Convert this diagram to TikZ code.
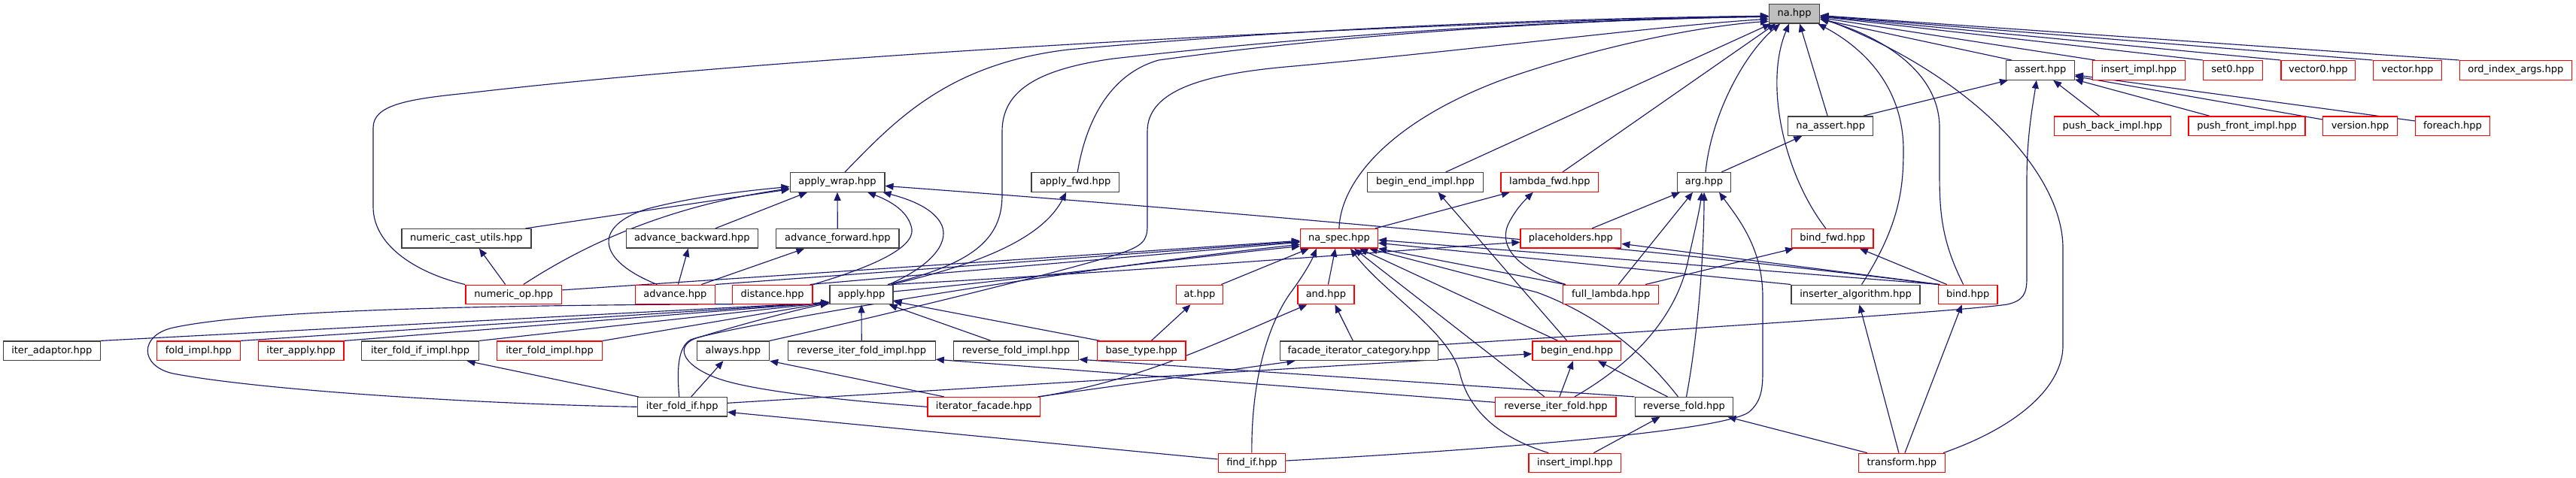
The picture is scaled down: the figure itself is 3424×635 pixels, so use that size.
\documentclass[tikz,border=0pt]{standalone}
\usepackage{fontspec}
\setmainfont{DejaVu Sans}
\usetikzlibrary{arrows.meta,calc}
\definecolor{edgeblue}{HTML}{191970}
\definecolor{boxgray}{HTML}{404040}
\definecolor{nafill}{HTML}{BFBFBF}
\definecolor{boxred}{HTML}{FF0000}
\pgfdeclarelayer{edgelayer}
\pgfdeclarelayer{paper}
\pgfsetlayers{paper,edgelayer,main}
\begin{document}
\begin{tikzpicture}[x=1pt,y=-1pt,
  box/.style={draw=boxgray, line width=1.3pt, fill=white, minimum height=25.5pt,
    inner sep=0pt, font=\fontsize{13}{15}\selectfont, text=black},
  rbox/.style={box, draw=boxred},
  dep/.style={draw=edgeblue, line width=1.15pt, -{Triangle[length=11pt,width=9pt]}}]
\begin{pgfonlayer}{paper}
\fill[white] (0,0) rectangle (3424,635);
\end{pgfonlayer}
\useasboundingbox (0,0) rectangle (3424,635);
% row 0
\node[box, fill=nafill, minimum width=67.2pt] (na) at (2385.1,18.2) {na.hpp};
% row 1
\node[box, minimum width=90.6pt] (assert) at (2711.9,93.4) {assert.hpp};
\node[rbox, minimum width=122.9pt] (insimpla) at (2842.8,93.4) {insert\_impl.hpp};
\node[rbox, minimum width=79.1pt] (set0) at (2967.9,93.4) {set0.hpp};
\node[rbox, minimum width=98.8pt] (vector0) at (3081.3,93.4) {vector0.hpp};
\node[rbox, minimum width=91.1pt] (vectorn) at (3199.8,93.4) {vector.hpp};
\node[rbox, minimum width=149.3pt] (ordidx) at (3343.8,93.4) {ord\_index\_args.hpp};
% row 2
\node[box, minimum width=113.2pt] (naassert) at (2433.2,167.7) {na\_assert.hpp};
\node[rbox, minimum width=154.5pt] (pushback) at (2807.9,167.7) {push\_back\_impl.hpp};
\node[rbox, minimum width=155.2pt] (pushfront) at (2986.5,167.7) {push\_front\_impl.hpp};
\node[rbox, minimum width=98.8pt] (versionn) at (3137,167.7) {version.hpp};
\node[rbox, minimum width=98.9pt] (foreachn) at (3260,167.7) {foreach.hpp};
% row 3
\node[box, minimum width=125.7pt] (applywrap) at (1113,242.4) {apply\_wrap.hpp};
\node[box, minimum width=116.5pt] (applyfwd) at (1429.2,242.4) {apply\_fwd.hpp};
\node[box, minimum width=153.5pt] (beimpl) at (1894.5,242.4) {begin\_end\_impl.hpp};
\node[rbox, minimum width=129.8pt] (lambdafwd) at (2059.8,242.4) {lambda\_fwd.hpp};
\node[box, minimum width=70.5pt] (argn) at (2265,242.4) {arg.hpp};
% row 4
\node[box, minimum width=171.9pt] (ncu) at (619.9,317.3) {numeric\_cast\_utils.hpp};
\node[box, minimum width=175pt] (advback) at (919.8,317.3) {advance\_backward.hpp};
\node[box, minimum width=163.1pt] (advfwd) at (1113.3,317.3) {advance\_forward.hpp};
\node[rbox, minimum width=102.8pt] (naspec) at (1779.9,317.3) {na\_spec.hpp};
\node[rbox, minimum width=133.6pt] (placeholders) at (2087.9,317.3) {placeholders.hpp};
\node[rbox, minimum width=108.1pt] (bindfwd) at (2435.8,317.3) {bind\_fwd.hpp};
% row 5
\node[rbox, minimum width=127.7pt] (numop) at (682.7,391.9) {numeric\_op.hpp};
\node[rbox, minimum width=105.8pt] (advancen) at (897.4,391.9) {advance.hpp};
\node[rbox, minimum width=106.5pt] (distancen) at (1026.6,391.9) {distance.hpp};
\node[box, minimum width=83.9pt] (applyn) at (1145,391.9) {apply.hpp};
\node[rbox, minimum width=62.5pt] (atn) at (1594.5,391.9) {at.hpp};
\node[rbox, minimum width=75.1pt] (andn) at (1762.4,391.9) {and.hpp};
\node[rbox, minimum width=126.9pt] (fulllambda) at (2141.2,391.9) {full\_lambda.hpp};
\node[box, minimum width=170.9pt] (inserter) at (2466.5,391.9) {inserter\_algorithm.hpp};
\node[rbox, minimum width=78.8pt] (bindn) at (2615.7,391.9) {bind.hpp};
% row 6
\node[box, minimum width=128.8pt] (iteradaptor) at (68.8,466.8) {iter\_adaptor.hpp};
\node[rbox, minimum width=111pt] (foldimpl) at (263.8,466.8) {fold\_impl.hpp};
\node[rbox, minimum width=113.6pt] (iterapply) at (400.1,466.8) {iter\_apply.hpp};
\node[box, minimum width=156pt] (ifiimpl) at (558.6,466.8) {iter\_fold\_if\_impl.hpp};
\node[rbox, minimum width=139.9pt] (iterfoldimpl) at (730.6,466.8) {iter\_fold\_impl.hpp};
\node[box, minimum width=96.2pt] (alwaysn) at (974.4,466.8) {always.hpp};
\node[box, minimum width=196pt] (rifimpl) at (1145.2,466.8) {reverse\_iter\_fold\_impl.hpp};
\node[box, minimum width=166.4pt] (rfimpl) at (1350.5,466.8) {reverse\_fold\_impl.hpp};
\node[rbox, minimum width=117.3pt] (basetype) at (1517.2,466.8) {base\_type.hpp};
\node[box, minimum width=210.4pt] (facadecat) at (1806.4,466.8) {facade\_iterator\_category.hpp};
\node[rbox, minimum width=117.7pt] (beginend) at (2095.9,466.8) {begin\_end.hpp};
% row 7
\node[box, minimum width=119.1pt] (iterfoldif) at (906.7,541.3) {iter\_fold\_if.hpp};
\node[rbox, minimum width=149.8pt] (iterfacade) at (1307.8,541.3) {iterator\_facade.hpp};
\node[rbox, minimum width=160.2pt] (revifold) at (2067.9,541.3) {reverse\_iter\_fold.hpp};
\node[box, minimum width=130.5pt] (revfold) at (2238.5,541.3) {reverse\_fold.hpp};
% row 8
\node[rbox, minimum width=89.5pt] (findif) at (1663.9,616) {find\_if.hpp};
\node[rbox, minimum width=122.8pt] (insimplb) at (2093.3,616) {insert\_impl.hpp};
\node[rbox, minimum width=114.7pt] (transformn) at (2527.9,616) {transform.hpp};

\begin{pgfonlayer}{edgelayer}
% ---- into na
\draw[dep] ($(assert.north west)+(8,0)$) -- (na);
\draw[dep] ($(insimpla.north west)+(4,0)$) -- (na);
\draw[dep] (set0.north west) -- (na);
\draw[dep] (vector0.north west) -- (na);
\draw[dep] (vectorn.north west) -- (na);
\draw[dep] (ordidx.north west) -- (na);
\draw[dep] (naassert) -- ($(na.south)+(7,0)$);
\draw[dep] ($(argn.north)+(2,0)$) .. controls (2275,150) and (2320,70) .. ($(na.south)+(-19,0)$);
\draw[dep] ($(bindfwd.north)+(-9,0)$) .. controls (2370,230) and (2345,110) .. ($(na.south)+(-7,0)$);
\draw[dep] ($(inserter.north)+(8,0)$) .. controls (2525,300) and (2530,250) .. (2530,200) .. controls (2530,110) and (2470,60) .. ($(na.south east)+(-3,0)$);
\draw[dep] ($(bindn.north)+(-6,0)$) .. controls (2580,320) and (2578,280) .. (2578,230) -- (2578,170) .. controls (2578,90) and (2490,45) .. ($(na.east)+(0,7)$);
\draw[dep] ($(transformn.north)+(55,0)$) .. controls (2690,565) and (2742,510) .. (2742,460) -- (2742,330) .. controls (2742,230) and (2620,100) .. ($(na.east)+(0,5)$);
\draw[dep] ($(beimpl.north)+(27,0)$) -- ($(na.south west)+(3,0)$);
\draw[dep] ($(lambdafwd.north)+(17,0)$) -- ($(na.south)+(-25,0)$);
\draw[dep] (naspec.north) .. controls (1782,240) and (1850,160) .. (2000,105) .. controls (2130,60) and (2260,35) .. ($(na.west)+(0,10)$);
\draw[dep] (numop.north west) .. controls (560,365) and (496,330) .. (496,275) -- (496,170) .. controls (496,140) and (540,132) .. (620,124) .. controls (1100,68) and (1900,30) .. ($(na.west)+(0,3)$);
\draw[dep] ($(applywrap.north)+(10,0)$) .. controls (1190,160) and (1260,85) .. (1420,66) .. controls (1750,36) and (2100,24) .. ($(na.west)+(0,3)$);
\draw[dep] ($(applyn.north)+(35,0)$) .. controls (1290,352) and (1332,320) .. (1332,260) -- (1332,175) .. controls (1332,120) and (1380,92) .. (1480,78) .. controls (1800,42) and (2100,26) .. ($(na.west)+(0,4)$);
\draw[dep] ($(applyfwd.north)+(3,0)$) .. controls (1442,170) and (1470,100) .. (1540,80) .. controls (1800,44) and (2100,26) .. ($(na.west)+(0,4)$);
\draw[dep] (alwaysn.north east) .. controls (1150,425) and (1400,365) .. (1480,340) .. controls (1520,328) and (1525,320) .. (1525,300) -- (1525,175) .. controls (1525,120) and (1600,98) .. (1720,88) .. controls (2000,62) and (2200,35) .. ($(na.west)+(0,7)$);
% ---- into assert
\draw[dep] ($(naassert.north east)+(-14,0)$) -- ($(assert.south west)+(3,0)$);
\draw[dep] (pushback) -- (assert);
\draw[dep] (pushfront) -- (assert);
\draw[dep] (versionn) -- (assert);
\draw[dep] (foreachn) -- (assert);
\draw[dep] ($(facadecat.east)+(0,-8)$) .. controls (2200,440) and (2600,415) .. (2668,405) .. controls (2690,400) and (2694,390) .. (2694,370) -- (2694,240) .. controls (2694,180) and (2702,140) .. ($(assert.south)+(-5,0)$);
% ---- into na_assert
\draw[dep] ($(argn.north)+(23,0)$) -- ($(naassert.south)+(-38,0)$);
% ---- into apply_wrap
\draw[dep] ($(ncu.north east)+(-8,0)$) -- ($(applywrap.south west)+(0,-4)$);
\draw[dep] ($(numop.north)+(13,0)$) .. controls (770,330) and (880,275) .. ($(applywrap.south west)+(0,-5)$);
\draw[dep] ($(advancen.north)+(-24,0)$) .. controls (790,345) and (790,300) .. (860,278) .. controls (920,262) and (990,254) .. ($(applywrap.west)+(0,6)$);
\draw[dep] ($(advback.north)+(31,0)$) -- ($(applywrap.south)+(-40,0)$);
\draw[dep] (advfwd.north) -- (applywrap.south);
\draw[dep] (distancen.north east) .. controls (1160,355) and (1215,330) .. (1212,305) .. controls (1208,282) and (1185,268) .. ($(applywrap.south)+(40,0)$);
\draw[dep] ($(applyn.north east)+(-6,0)$) .. controls (1235,355) and (1262,325) .. (1252,300) .. controls (1242,278) and (1212,266) .. ($(applywrap.south east)+(-3,0)$);
\draw[dep] (bindn.north west) .. controls (2300,342) and (1700,286) .. ($(applywrap.east)+(0,5)$);
% ---- into apply_fwd
\draw[dep] ($(applyn.north east)+(-3,0)$) .. controls (1300,352) and (1385,318) .. ($(applyfwd.south)+(-12,0)$);
% ---- into begin_end_impl, lambda_fwd
\draw[dep] ($(beginend.north)+(-13,0)$) -- ($(beimpl.south)+(17,0)$);
\draw[dep] ($(naspec.north)+(48,0)$) -- ($(lambdafwd.south)+(-53,0)$);
\draw[dep] ($(fulllambda.north)+(-60,0)$) .. controls (2020,360) and (1992,330) .. (2004,300) .. controls (2012,282) and (2025,268) .. ($(lambdafwd.south)+(-22,0)$);
% ---- into arg
\draw[dep] ($(placeholders.north)+(28,0)$) -- ($(argn.south west)+(4,0)$);
\draw[dep] ($(fulllambda.north)+(10,0)$) -- ($(argn.south)+(-15,0)$);
\draw[dep] ($(revifold.north)+(25,0)$) .. controls (2185,475) and (2230,410) .. (2243,350) .. controls (2252,310) and (2259,280) .. ($(argn.south)+(-3,0)$);
\draw[dep] ($(revfold.north)+(3,0)$) .. controls (2258,440) and (2265,330) .. (argn.south);
\draw[dep] ($(findif.east)+(0,-3)$) .. controls (1950,600) and (2290,575) .. (2325,548) .. controls (2340,535) and (2343,520) .. (2343,495) -- (2343,395) .. controls (2343,330) and (2310,290) .. ($(argn.south)+(20,0)$);
% ---- into na_spec
\draw[dep] ($(numop.east)+(0,-6)$) -- ($(naspec.west)+(0,3)$);
\draw[dep] (advancen.north east) -- ($(naspec.west)+(0,4)$);
\draw[dep] ($(distancen.north east)+(-4,0)$) -- ($(naspec.west)+(0,5)$);
\draw[dep] ($(applyn.east)+(0,-4)$) .. controls (1350,373) and (1600,340) .. ($(naspec.south west)+(0,-3)$);
\draw[dep] ($(iterfoldif.north)+(-4,0)$) .. controls (900,495) and (900,462) .. (918,452) .. controls (960,436) and (1400,360) .. ($(naspec.west)+(0,8)$);
\draw[dep] ($(atn.north east)+(-3,0)$) -- ($(naspec.south)+(-40,0)$);
\draw[dep] ($(andn.north)+(3,0)$) -- ($(naspec.south)+(-5,0)$);
\draw[dep] ($(fulllambda.north)+(-61,0)$) -- (naspec.south east);
\draw[dep] (inserter.north west) -- ($(naspec.east)+(0,6)$);
\draw[dep] ($(bindn.north west)+(2,0)$) -- ($(naspec.east)+(0,2)$);
\draw[dep] ($(beginend.north)+(-25,0)$) -- ($(naspec.south)+(27,0)$);
\draw[dep] ($(revifold.north)+(-15,0)$) -- ($(naspec.south)+(20,0)$);
\draw[dep] ($(revfold.north)+(-8,0)$) .. controls (2170,450) and (2100,410) .. (2043,389) -- ($(naspec.south)+(40,0)$);
\draw[dep] ($(insimplb.north)+(-35,0)$) .. controls (1985,580) and (1950,540) .. (1940,495) .. controls (1925,440) and (1840,390) .. ($(naspec.south)+(15,0)$);
\draw[dep] (findif.north) .. controls (1663,520) and (1680,440) .. (1715,390) .. controls (1730,370) and (1742,350) .. ($(naspec.south)+(-30,0)$);
% ---- into placeholders
\draw[dep] ($(applyn.north east)+(-2,0)$) .. controls (1500,362) and (1900,330) .. ($(placeholders.west)+(0,5)$);
\draw[dep] ($(bindn.north west)+(3,0)$) -- ($(placeholders.east)+(0,7)$);
% ---- into bind_fwd
\draw[dep] ($(bindn.north)+(-28,0)$) -- ($(bindfwd.south)+(36,0)$);
\draw[dep] ($(fulllambda.north)+(46,0)$) -- ($(bindfwd.south west)+(3,0)$);
% ---- into numeric_cast_utils, advance_*
\draw[dep] ($(numop.north)+(-11,0)$) -- ($(ncu.south)+(17,0)$);
\draw[dep] ($(advancen.north)+(4,0)$) -- ($(advback.south)+(-5,0)$);
\draw[dep] ($(advancen.north)+(35,0)$) -- ($(advfwd.south)+(-44,0)$);
% ---- into apply
\draw[dep] (iteradaptor.north east) -- ($(applyn.south west)+(0,-3)$);
\draw[dep] (foldimpl.north east) -- ($(applyn.south west)+(0,-3)$);
\draw[dep] (iterapply.north east) -- ($(applyn.south west)+(0,-3)$);
\draw[dep] (ifiimpl.north east) -- ($(applyn.south west)+(0,-3)$);
\draw[dep] (iterfoldimpl.north east) -- ($(applyn.south west)+(0,-3)$);
\draw[dep] (rifimpl.north) -- (applyn.south);
\draw[dep] ($(rfimpl.north)+(-33,0)$) -- ($(applyn.south east)+(-6,0)$);
\draw[dep] ($(basetype.north)+(-55,0)$) -- ($(applyn.east)+(0,9)$);
\draw[dep] (iterfoldif.west) .. controls (650,538) and (350,520) .. (230,497) .. controls (185,487) and (185,446) .. (230,436) .. controls (350,410) and (700,405) .. ($(applyn.south west)+(0,-1)$);
\draw[dep] (iterfacade.west) .. controls (1150,535) and (1000,522) .. (950,502) .. controls (905,484) and (898,460) .. (925,450) .. controls (990,430) and (1060,412) .. ($(applyn.south west)+(-1,-2)$);
% ---- into at, and, facade
\draw[dep] ($(basetype.north)+(13,0)$) -- ($(atn.south)+(-12,0)$);
\draw[dep] ($(facadecat.north)+(-8,0)$) -- ($(andn.south)+(12,0)$);
\draw[dep] ($(iterfacade.north east)+(-2,0)$) .. controls (1520,505) and (1620,455) .. ($(andn.south)+(-25,0)$);
\draw[dep] ($(iterfacade.north east)+(-4,0)$) -- ($(facadecat.south)+(-85,0)$);
% ---- into always, iter_fold_if_impl
\draw[dep] ($(iterfoldif.north)+(12,0)$) -- ($(alwaysn.south)+(-13,0)$);
\draw[dep] ($(iterfacade.north)+(-53,0)$) -- (alwaysn.south east);
\draw[dep] ($(iterfoldif.north)+(-58,0)$) -- ($(ifiimpl.south)+(62,0)$);
% ---- into begin_end
\draw[dep] ($(iterfoldif.east)+(0,-5)$) -- ($(beginend.west)+(0,4)$);
\draw[dep] ($(revifold.north)+(5,0)$) -- ($(beginend.south)+(-5,0)$);
\draw[dep] ($(revfold.north)+(-22,0)$) -- ($(beginend.south)+(28,0)$);
% ---- into reverse_*_impl
\draw[dep] ($(revifold.west)+(0,-6)$) -- ($(rifimpl.south east)+(0,-2)$);
\draw[dep] (revfold.north west) -- ($(rfimpl.south east)+(0,-2)$);
% ---- into reverse_fold, iter_fold_if, inserter, bind
\draw[dep] ($(insimplb.north)+(25,0)$) -- ($(revfold.south)+(-32,0)$);
\draw[dep] ($(transformn.north)+(-46,0)$) -- ($(revfold.south east)+(-8,0)$);
\draw[dep] ($(findif.west)+(0,-5)$) -- ($(iterfoldif.east)+(0,7)$);
\draw[dep] ($(transformn.north)+(-4,0)$) -- ($(inserter.south)+(5,0)$);
\draw[dep] ($(transformn.north)+(4,0)$) -- ($(bindn.south)+(-8,0)$);
\end{pgfonlayer}
\end{tikzpicture}
\end{document}
